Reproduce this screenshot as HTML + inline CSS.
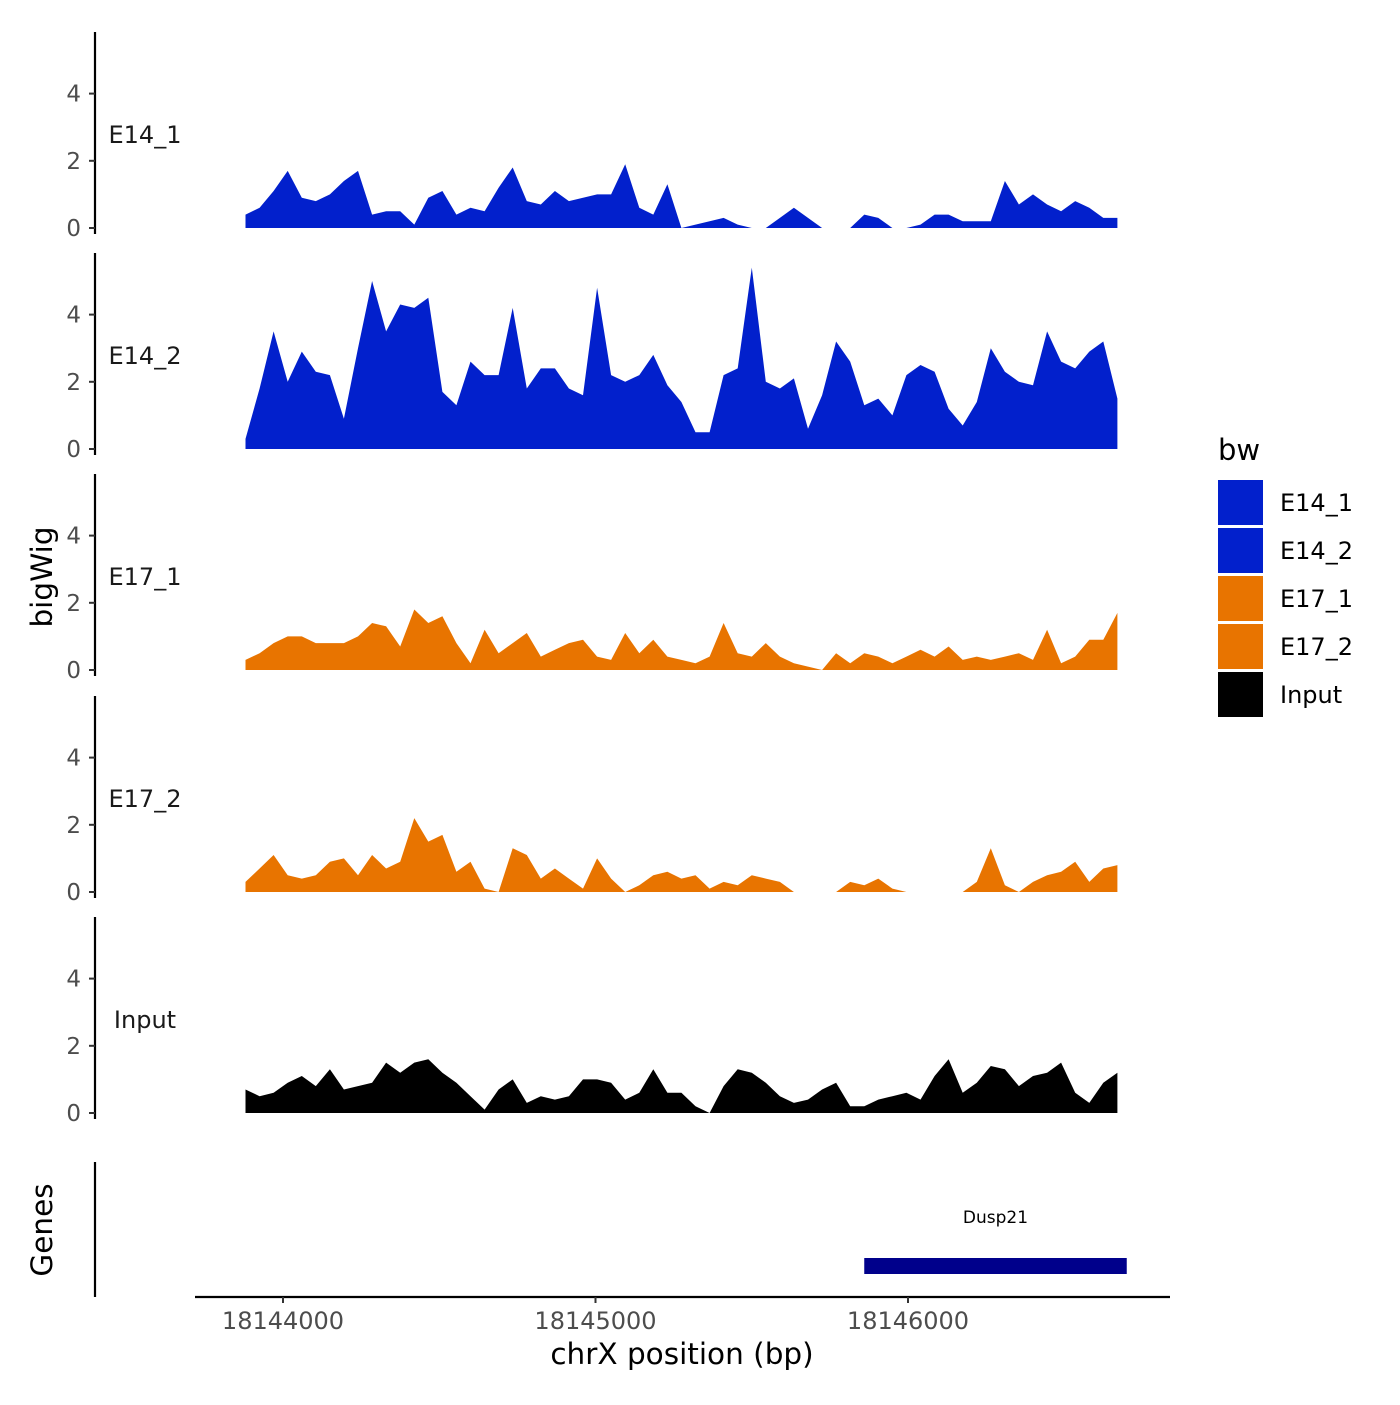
<!DOCTYPE html>
<html><head><meta charset="utf-8"><style>
html,body{margin:0;padding:0;background:#fff}
svg text{font-family:"DejaVu Sans","Liberation Sans",sans-serif}
</style></head><body>
<svg id="c" width="1400" height="1400" viewBox="0 0 1400 1400" xmlns="http://www.w3.org/2000/svg"></svg>
<script>
const startBp = 18143880;
const stepBp = 45;
const seriesNames = ["E14_1","E14_2","E17_1","E17_2","Input"];
const seriesColors = ["#0220cc","#0220cc","#e87400","#e87400","#000000"];
const e14_1 = [0.4,0.6,1.1,1.7,0.9,0.8,1.0,1.4,1.7,0.4,0.5,0.5,0.1,0.9,1.1,0.4,0.6,0.5,1.2,1.8,0.8,0.7,1.1,0.8,0.9,1.0,1.0,1.9,0.6,0.4,1.3,0,0.1,0.2,0.3,0.1,0,0,0.3,0.6,0.3,0,0,0,0.4,0.3,0,0,0.1,0.4,0.4,0.2,0.2,0.2,1.4,0.7,1.0,0.7,0.5,0.8,0.6,0.3,0.3];
const e14_2 = [0.3,1.8,3.5,2.0,2.9,2.3,2.2,0.9,3.0,5.0,3.5,4.3,4.2,4.5,1.7,1.3,2.6,2.2,2.2,4.2,1.8,2.4,2.4,1.8,1.6,4.8,2.2,2.0,2.2,2.8,1.9,1.4,0.5,0.5,2.2,2.4,5.4,2.0,1.8,2.1,0.6,1.6,3.2,2.6,1.3,1.5,1.0,2.2,2.5,2.3,1.2,0.7,1.4,3.0,2.3,2.0,1.9,3.5,2.6,2.4,2.9,3.2,1.5];
const e17_1 = [0.3,0.5,0.8,1.0,1.0,0.8,0.8,0.8,1.0,1.4,1.3,0.7,1.8,1.4,1.6,0.8,0.2,1.2,0.5,0.8,1.1,0.4,0.6,0.8,0.9,0.4,0.3,1.1,0.5,0.9,0.4,0.3,0.2,0.4,1.4,0.5,0.4,0.8,0.4,0.2,0.1,0,0.5,0.2,0.5,0.4,0.2,0.4,0.6,0.4,0.7,0.3,0.4,0.3,0.4,0.5,0.3,1.2,0.2,0.4,0.9,0.9,1.7];
const e17_2 = [0.3,0.7,1.1,0.5,0.4,0.5,0.9,1.0,0.5,1.1,0.7,0.9,2.2,1.5,1.7,0.6,0.9,0.1,0,1.3,1.1,0.4,0.7,0.4,0.1,1.0,0.4,0,0.2,0.5,0.6,0.4,0.5,0.1,0.3,0.2,0.5,0.4,0.3,0,0,0,0,0.3,0.2,0.4,0.1,0,0,0,0,0,0.3,1.3,0.2,0,0.3,0.5,0.6,0.9,0.3,0.7,0.8];
const input = [0.7,0.5,0.6,0.9,1.1,0.8,1.3,0.7,0.8,0.9,1.5,1.2,1.5,1.6,1.2,0.9,0.5,0.1,0.7,1.0,0.3,0.5,0.4,0.5,1.0,1.0,0.9,0.4,0.6,1.3,0.6,0.6,0.2,0,0.8,1.3,1.2,0.9,0.5,0.3,0.4,0.7,0.9,0.2,0.2,0.4,0.5,0.6,0.4,1.1,1.6,0.6,0.9,1.4,1.3,0.8,1.1,1.2,1.5,0.6,0.3,0.9,1.2];
const seriesValues = [e14_1,e14_2,e17_1,e17_2,input];
const yTicks = [0,2,4];
const xTicks = [18144000,18145000,18146000];
const xTickLabels = ["18144000","18145000","18146000"];
const gene = {name:"Dusp21", start:18145860, end:18146700};

const svg = document.getElementById('c');
const NS = 'http://www.w3.org/2000/svg';
function mk(t, a, txt){const e=document.createElementNS(NS,t);for(const k in a)e.setAttribute(k,a[k]);if(txt!==undefined)e.textContent=txt;svg.appendChild(e);return e;}
const xScale = bp => 283 + (bp-18144000)*0.3125;
const base0 = [228,449,670,892,1113];
const yScale = (p,v) => base0[p] - v*33.6;

for(let p=0;p<5;p++){
  const ax = mk('line',{x1:95,x2:95,y1:base0[p]-196,y2:base0[p]+6,stroke:'#000','stroke-width':2.2});
  
  
  yTicks.forEach(t=>{
    const y=yScale(p,t);
    const tk=mk('line',{x1:89,x2:95,y1:y,y2:y,stroke:'#333','stroke-width':2});
    
    
    const tl=mk('text',{x:81,y:y+8,'text-anchor':'end','font-size':23,fill:'#4d4d4d'},String(t));
    
    
  });
  const lab=mk('text',{x:145,y:base0[p]-85,'text-anchor':'middle','font-size':24,fill:'#1a1a1a'},seriesNames[p]);
  
  
  const vals=seriesValues[p];
  let d='M'+xScale(startBp)+','+base0[p];
  vals.forEach((v,i)=>{d+=' L'+xScale(startBp+i*stepBp).toFixed(1)+','+yScale(p,v).toFixed(1);});
  d+=' L'+xScale(startBp+(vals.length-1)*stepBp).toFixed(1)+','+base0[p]+' Z';
  const area=mk('path',{d:d,fill:seriesColors[p]});
  
  
}
const yt=mk('text',{x:0,y:0,transform:'translate(52,577) rotate(-90)','text-anchor':'middle','font-size':29.5,fill:'#000'},'bigWig');



const ga=mk('line',{x1:95,x2:95,y1:1162,y2:1297,stroke:'#000','stroke-width':2.2});


const gt=mk('text',{x:0,y:0,transform:'translate(52,1230) rotate(-90)','text-anchor':'middle','font-size':29.5,fill:'#000'},'Genes');


const gr=mk('rect',{x:xScale(gene.start),y:1258,width:xScale(gene.end)-xScale(gene.start),height:16,fill:'#00008b'});


const gl=mk('text',{x:(xScale(gene.start)+xScale(gene.end))/2,y:1223,'text-anchor':'middle','font-size':17,fill:'#000'},gene.name);



const xa=mk('line',{x1:195,x2:1170,y1:1297,y2:1297,stroke:'#000','stroke-width':2.2});


xTicks.forEach((t,i)=>{
  const x=xScale(t);
  const tk=mk('line',{x1:x,x2:x,y1:1297,y2:1303,stroke:'#333','stroke-width':2});
  
  
  const tl=mk('text',{x:x,y:1329,'text-anchor':'middle','font-size':24,fill:'#4d4d4d'},xTickLabels[i]);
  
  
});
const xt=mk('text',{x:682,y:1364,'text-anchor':'middle','font-size':29.5,fill:'#000'},'chrX position (bp)');



const lt=mk('text',{x:1218,y:460,'font-size':29,fill:'#000'},'bw');


const legColors=["#0220cc","#0220cc","#e87400","#e87400","#000000"];
seriesNames.forEach((n,i)=>{
  const y=480+i*48;
  const r=mk('rect',{x:1218,y:y,width:45,height:45,fill:legColors[i]});
  
  
  const t=mk('text',{x:1280,y:y+31,'font-size':24,fill:'#000'},n);
  
  
});
</script>
</body></html>
